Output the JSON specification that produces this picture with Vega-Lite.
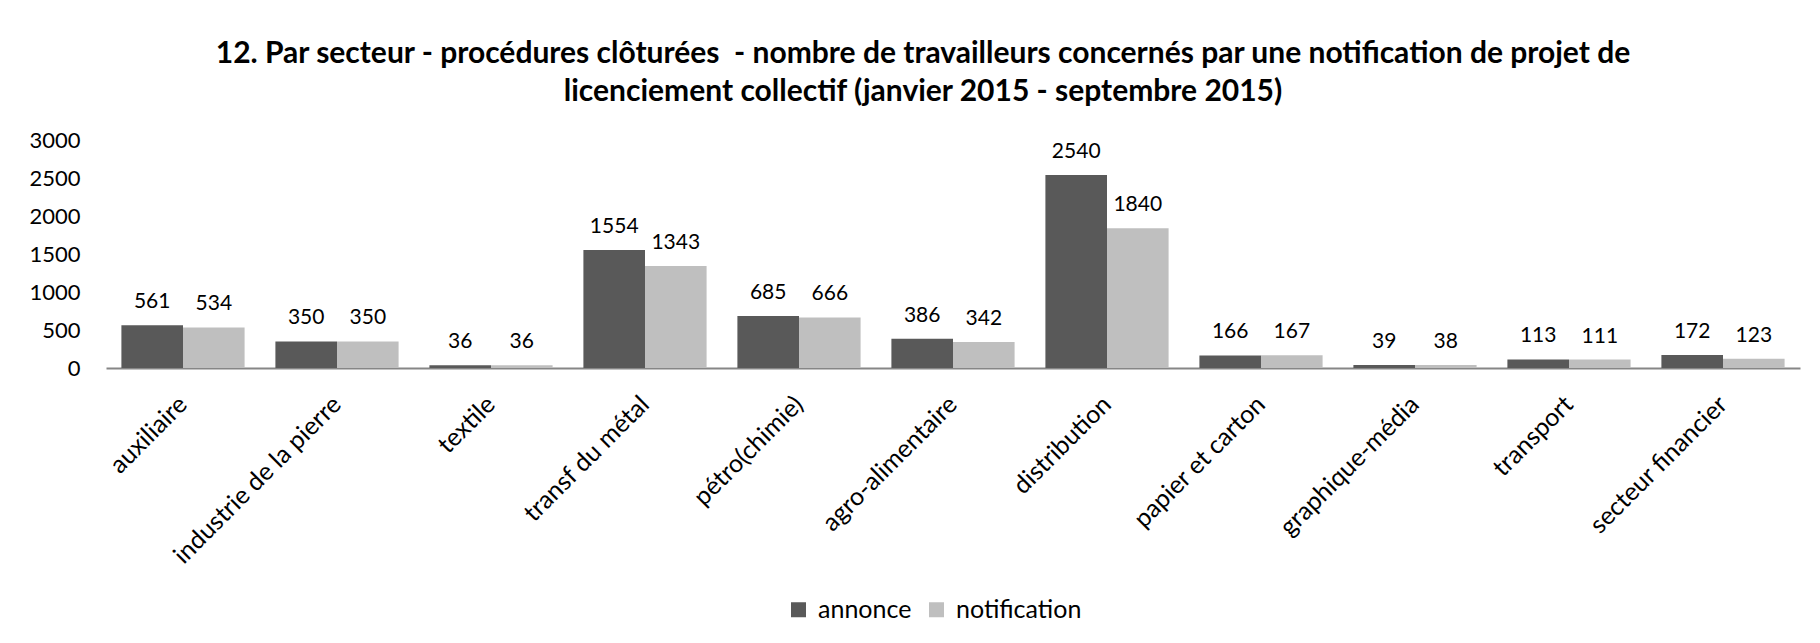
{
  "$schema": "https://vega.github.io/schema/vega-lite/v6.json",
  "autosize": {"type": "none"},
  "width": 1694,
  "height": 228,
  "padding": {"left": 106, "top": 140, "right": 20, "bottom": 275},
  "background": "white",
  "title": {
    "text": ["12. Par secteur - procédures clôturées\u00a0 - nombre de travailleurs concernés par une notification de projet de", "licenciement collectif (janvier 2015 - septembre 2015)"],
    "anchor": "middle",
    "dx": -30,
    "offset": 22,
    "font": "Lato",
    "fontSize": 30,
    "fontWeight": "bold",
    "color": "#000000",
    "lineHeight": 38
  },
  "data": {
    "values": [
      {"secteur": "auxiliaire", "serie": "annonce", "valeur": 561},
      {"secteur": "auxiliaire", "serie": "notification", "valeur": 534},
      {"secteur": "industrie de la pierre", "serie": "annonce", "valeur": 350},
      {"secteur": "industrie de la pierre", "serie": "notification", "valeur": 350},
      {"secteur": "textile", "serie": "annonce", "valeur": 36},
      {"secteur": "textile", "serie": "notification", "valeur": 36},
      {"secteur": "transf du métal", "serie": "annonce", "valeur": 1554},
      {"secteur": "transf du métal", "serie": "notification", "valeur": 1343},
      {"secteur": "pétro(chimie)", "serie": "annonce", "valeur": 685},
      {"secteur": "pétro(chimie)", "serie": "notification", "valeur": 666},
      {"secteur": "agro-alimentaire", "serie": "annonce", "valeur": 386},
      {"secteur": "agro-alimentaire", "serie": "notification", "valeur": 342},
      {"secteur": "distribution", "serie": "annonce", "valeur": 2540},
      {"secteur": "distribution", "serie": "notification", "valeur": 1840},
      {"secteur": "papier et carton", "serie": "annonce", "valeur": 166},
      {"secteur": "papier et carton", "serie": "notification", "valeur": 167},
      {"secteur": "graphique-média", "serie": "annonce", "valeur": 39},
      {"secteur": "graphique-média", "serie": "notification", "valeur": 38},
      {"secteur": "transport", "serie": "annonce", "valeur": 113},
      {"secteur": "transport", "serie": "notification", "valeur": 111},
      {"secteur": "secteur financier", "serie": "annonce", "valeur": 172},
      {"secteur": "secteur financier", "serie": "notification", "valeur": 123}
    ]
  },
  "encoding": {
    "x": {
      "field": "secteur",
      "type": "nominal",
      "sort": null,
      "title": null,
      "scale": {"paddingInner": 0.2, "paddingOuter": 0.1},
      "axis": {
        "labelAngle": -45,
        "labelAlign": "right",
        "labelBaseline": "middle",
        "labelFont": "Lato",
        "labelFontSize": 25,
        "labelColor": "#000000",
        "labelPadding": 32,
        "labelLimit": 0,
        "labelOverlap": false,
        "ticks": false,
        "domainColor": "#868686",
        "domainWidth": 2,
        "grid": false
      }
    },
    "xOffset": {"field": "serie", "type": "nominal", "sort": ["annonce", "notification"], "scale": {"paddingInner": 0, "paddingOuter": 0}},
    "y": {
      "field": "valeur",
      "type": "quantitative",
      "title": null,
      "scale": {"domain": [0, 3000], "nice": false},
      "axis": {
        "values": [0, 500, 1000, 1500, 2000, 2500, 3000],
        "format": "d",
        "labelFont": "Lato",
        "labelFontSize": 22,
        "labelColor": "#000000",
        "labelPadding": 26,
        "ticks": false,
        "domain": false,
        "grid": false
      }
    }
  },
  "layer": [
    {
      "mark": {"type": "bar"},
      "encoding": {
        "color": {
          "field": "serie",
          "type": "nominal",
          "scale": {"domain": ["annonce", "notification"], "range": ["#595959", "#bfbfbf"]},
          "legend": {
            "title": null,
            "orient": "none",
            "legendX": 680,
            "legendY": 457,
            "direction": "horizontal",
            "symbolType": "square",
            "symbolSize": 225,
            "symbolStrokeWidth": 0,
            "labelFont": "Lato",
            "labelFontSize": 25,
            "labelColor": "#000000",
            "columnPadding": 12,
            "labelOffset": 7
          }
        }
      }
    },
    {
      "mark": {"type": "text", "baseline": "alphabetic", "dy": -17, "font": "Lato", "fontSize": 21, "color": "#000000"},
      "encoding": {
        "text": {"field": "valeur", "type": "quantitative"}
      }
    }
  ],
  "config": {
    "view": {"stroke": null}
  }
}
